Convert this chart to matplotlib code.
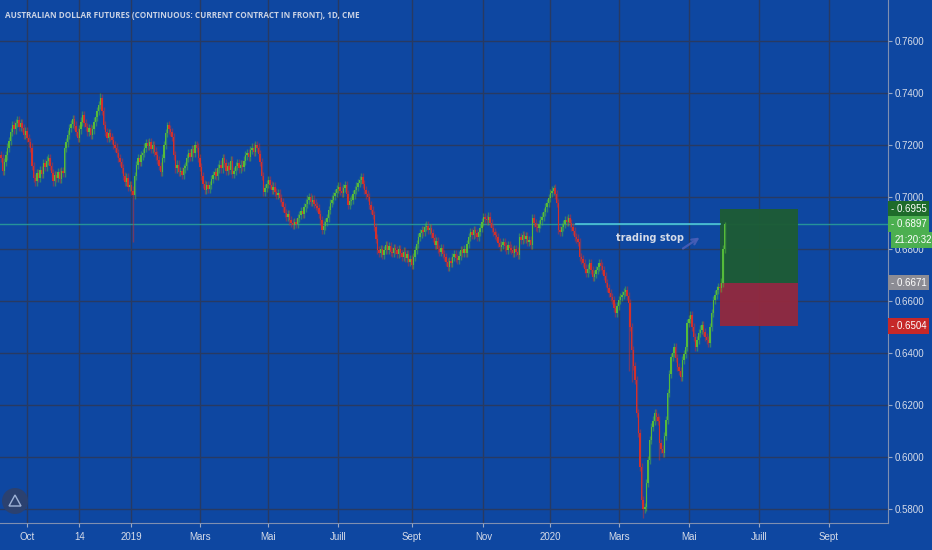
import numpy as np
import pandas as pd
import matplotlib
matplotlib.use('Agg')
import matplotlib.pyplot as plt
from matplotlib.patches import Rectangle, Ellipse, Polygon

# daily closes x 10000, first bar = 2018-09-07
close_pips = [
    7150, 7100, 7135, 7160, 7190, 7215, 7250, 7277, 7260, 7285,
    7296, 7270, 7285, 7265, 7240, 7255, 7227, 7210, 7190, 7120,
    7073, 7060, 7092, 7075, 7105, 7090, 7130, 7115, 7140, 7150,
    7120, 7092, 7060, 7085, 7073, 7095, 7070, 7100, 7092, 7190,
    7210, 7240, 7265, 7280, 7300, 7275, 7250, 7227, 7260, 7290,
    7315, 7285, 7270, 7250, 7265, 7238, 7260, 7290, 7308, 7330,
    7355, 7380, 7330, 7277, 7250, 7227, 7245, 7230, 7220, 7200,
    7190, 7170, 7150, 7135, 7110, 7080, 7058, 7075, 7040, 7046,
    7025, 7008, 7080, 7123, 7150, 7135, 7160, 7170, 7190, 7208,
    7195, 7210, 7185, 7200, 7175, 7160, 7142, 7120, 7096, 7150,
    7200, 7246, 7277, 7260, 7250, 7230, 7160, 7110, 7125, 7095,
    7100, 7085, 7110, 7120, 7150, 7170, 7155, 7185, 7170, 7200,
    7190, 7150, 7115, 7080, 7050, 7027, 7045, 7030, 7046, 7070,
    7085, 7096, 7080, 7110, 7125, 7110, 7150, 7130, 7100, 7120,
    7105, 7140, 7090, 7100, 7120, 7130, 7110, 7125, 7115, 7140,
    7160, 7170, 7155, 7180, 7190, 7175, 7200, 7190, 7165, 7135,
    7080, 7020, 7035, 7050, 7065, 7045, 7027, 7040, 7020, 7008,
    7015, 6996, 6980, 6960, 6938, 6925, 6935, 6910, 6900, 6892,
    6905, 6895, 6920, 6930, 6945, 6935, 6960, 6975, 6990, 7000,
    6980, 6990, 6975, 6965, 6958, 6935, 6910, 6873, 6890, 6905,
    6920, 6950, 6977, 6990, 7005, 7015, 7030, 7040, 7025, 7015,
    7035, 7046, 7010, 6970, 6985, 6990, 7010, 7027, 7040, 7054,
    7065, 7077, 7050, 7027, 7010, 7000, 6970, 6950, 6930, 6885,
    6840, 6796, 6785, 6800, 6777, 6795, 6815, 6796, 6810, 6790,
    6785, 6805, 6796, 6780, 6800, 6785, 6770, 6790, 6765, 6780,
    6750, 6760, 6738, 6770, 6796, 6820, 6846, 6860, 6873, 6865,
    6885, 6890, 6873, 6880, 6860, 6842, 6815, 6830, 6800, 6788,
    6805, 6780, 6769, 6750, 6730, 6755, 6745, 6769, 6780, 6765,
    6758, 6775, 6796, 6785, 6800, 6785, 6820, 6845, 6865, 6855,
    6873, 6860, 6846, 6865, 6880, 6905, 6923, 6915, 6910, 6925,
    6900, 6880, 6865, 6855, 6846, 6825, 6808, 6815, 6827, 6810,
    6796, 6815, 6804, 6795, 6785, 6800, 6790, 6777, 6846, 6835,
    6854, 6840, 6850, 6827, 6835, 6815, 6920, 6900, 6885, 6880,
    6895, 6910, 6925, 6942, 6960, 6977, 6995, 7015, 7025, 7035,
    7010, 6977, 6873, 6865, 6885, 6895, 6910, 6905, 6920, 6900,
    6885, 6870, 6846, 6840, 6827, 6769, 6760, 6746, 6725, 6708,
    6725, 6746, 6720, 6692, 6705, 6720, 6730, 6746, 6735, 6720,
    6695, 6669, 6650, 6630, 6615, 6604, 6575, 6554, 6580, 6604,
    6615, 6623, 6635, 6642, 6620, 6592, 6500, 6412, 6350, 6296,
    6169, 6092, 5962, 5835, 5800, 5808, 5900, 5988, 6065, 6115,
    6140, 6169, 6155, 6140, 6054, 6030, 6015, 6080, 6142, 6246,
    6320, 6385, 6400, 6423, 6380, 6346, 6330, 6308, 6373, 6395,
    6423, 6515, 6530, 6546, 6500, 6462, 6423, 6450, 6477, 6490,
    6508, 6480, 6462, 6450, 6438, 6500, 6554, 6604, 6625, 6642,
    6654, 6650, 6671, 6800, 6897,
]
first_open = 0.7160

# bars with long shadows (bar number -> price)
wick_low = {81: 0.6827, 385: 0.6330, 387: 0.6290, 394: 0.5765, 404: 0.5990}
wick_high = {61: 0.7400, 102: 0.7290, 221: 0.7092, 339: 0.7046, 444: 0.6905}

# days the exchange was shut (no bar)
holidays = ['2018-11-22', '2018-12-25', '2019-01-01', '2019-04-19', '2019-11-28',
            '2019-12-25', '2020-01-01', '2020-04-10', '2020-07-03']

tick_dates = ['2018-10-01', '2018-11-14', '2019-01-02', '2019-03-01', '2019-05-01',
              '2019-07-01', '2019-09-02', '2019-11-01', '2020-01-02', '2020-03-02',
              '2020-05-01', '2020-07-01', '2020-09-01']
tick_labels = ['Oct', '14', '2019', 'Mars', 'Mai', 'Juill', 'Sept', 'Nov',
               '2020', 'Mars', 'Mai', 'Juill', 'Sept']

last_price = 0.6897
target_price = 0.6955
entry_price = 0.6671
stop_price = 0.6504
countdown = '21:20:32'
position_start, position_end = '2020-05-28', '2020-08-05'
stop_line_start, stop_line_end = '2020-01-24', '2020-05-28'
note_date, note_price = '2020-03-27', 0.6842
arrow_from, arrow_to = ('2020-04-24', 0.6796), ('2020-05-13', 0.6850)

# ---------------------------------------------------------------
bg = '#0e47a1'
grid_c = '#283a62'
up_c = '#55bb3a'
down_c = '#d3302c'
txt_c = '#d5dbe8'

dates = pd.bdate_range('2018-09-07', periods=600, freq='C', holidays=holidays)


def pos(d):
    return int(dates.searchsorted(pd.Timestamp(d)))


close = np.array(close_pips) / 10000.0
openp = np.r_[first_open, close[:-1]]
idx = np.arange(len(close))
hi = np.maximum(openp, close) + 0.0016
lo = np.minimum(openp, close) - 0.0016
for k, v in wick_low.items():
    lo[k] = v
for k, v in wick_high.items():
    hi[k] = v
colors = np.where(close >= openp, up_c, down_c)

fig = plt.figure(figsize=(9.32, 5.5), dpi=100, facecolor=bg)
ax = fig.add_axes([0, 27 / 550, 888 / 932, 523 / 550])
ax.set_facecolor(bg)

xt = [pos(d) for d in tick_dates]
ax.set_xticks(xt)
ax.set_xticklabels(tick_labels)
ax.set_yticks(np.arange(0.58, 0.7601, 0.02))
ax.yaxis.set_major_formatter(plt.FuncFormatter(lambda v, p: f'{v:.4f}'))
ax.yaxis.tick_right()
ax.grid(True, color=grid_c, linewidth=1.0)
ax.set_axisbelow(True)
ax.tick_params(axis='both', colors='#9aa8c4', labelcolor=txt_c, length=3, labelsize=7)
ax.tick_params(axis='y', pad=2)
for lab in ax.get_xticklabels() + ax.get_yticklabels():
    lab.set_family('Liberation Sans')
for s in ['top', 'left']:
    ax.spines[s].set_visible(False)
for s in ['bottom', 'right']:
    ax.spines[s].set_color('#7f8fb0')

ax.set_xlim(-0.6, 544.2)
ax.set_ylim(0.57462, 0.77577)

# full width last-price line
ax.axhline(last_price, color='#2aa198', linewidth=1.0, alpha=0.85, zorder=2)

# candles
ax.vlines(idx, lo, hi, colors=colors, linewidth=1.0, alpha=0.5, zorder=3)
body = np.maximum(np.abs(close - openp), 0.0004)
ax.bar(idx, body, bottom=np.minimum(openp, close), width=0.85, color=colors,
       linewidth=0, zorder=4)

# trading stop line
ax.plot([pos(stop_line_start), pos(stop_line_end)], [last_price, last_price],
        color='#4fc3d9', linewidth=1.2, zorder=5)

# long position box
x0, x1 = pos(position_start), pos(position_end)
ax.add_patch(Rectangle((x0, entry_price), x1 - x0, target_price - entry_price,
                       facecolor='#1d5c34', edgecolor='none', alpha=0.95, zorder=2))
ax.add_patch(Rectangle((x0, stop_price), x1 - x0, entry_price - stop_price,
                       facecolor='#93293d', edgecolor='none', alpha=0.95, zorder=2))

ax.text(pos(note_date), note_price, 'trading stop', color=txt_c, fontsize=7,
        ha='center', va='center', family='DejaVu Sans', fontweight='bold', zorder=6)
ax.annotate('', xy=(pos(arrow_to[0]), arrow_to[1]),
            xytext=(pos(arrow_from[0]), arrow_from[1]),
            arrowprops=dict(arrowstyle='->', color='#4a5fb8', lw=1.6, alpha=0.9), zorder=6)

# price labels on the right scale
ytr = ax.get_yaxis_transform()
for price, face in [(target_price, '#1e6b2a'), (last_price, '#4caf50'),
                    (entry_price, '#8c8c94'), (stop_price, '#c62828')]:
    ax.text(1.003, price, f'- {price:.4f}', transform=ytr, color='white',
            fontsize=7, family='Liberation Sans', ha='left', va='center', zorder=10,
            bbox=dict(boxstyle='square,pad=0.28', facecolor=face, edgecolor='none'),
            clip_on=False)
ax.text(1.007, last_price - 0.0063, countdown, transform=ytr, color='white',
        fontsize=7, family='Liberation Sans', ha='left', va='center', zorder=10,
        bbox=dict(boxstyle='square,pad=0.28', facecolor='#4caf50', edgecolor='none'),
        clip_on=False)

fig.text(5 / 932, 1 - 15 / 550,
         'AUSTRALIAN DOLLAR FUTURES (CONTINUOUS: CURRENT CONTRACT IN FRONT), 1D, CME',
         color='#c9d2e4', fontsize=5.9, fontweight='bold', family='Open Sans',
         ha='left', va='center')

# logo bottom-left
fig.add_artist(Ellipse((15 / 932, 1 - 501 / 550), 26 / 932, 26 / 550,
                       transform=fig.transFigure, facecolor='#2b4170', edgecolor='none'))
fig.add_artist(Polygon([[9 / 932, 1 - 506 / 550], [15 / 932, 1 - 495 / 550],
                        [21 / 932, 1 - 506 / 550]], closed=True,
                       transform=fig.transFigure, facecolor='none',
                       edgecolor='#9fb3d8', linewidth=1.0))

fig.savefig('out.png', dpi=100, facecolor=bg)
